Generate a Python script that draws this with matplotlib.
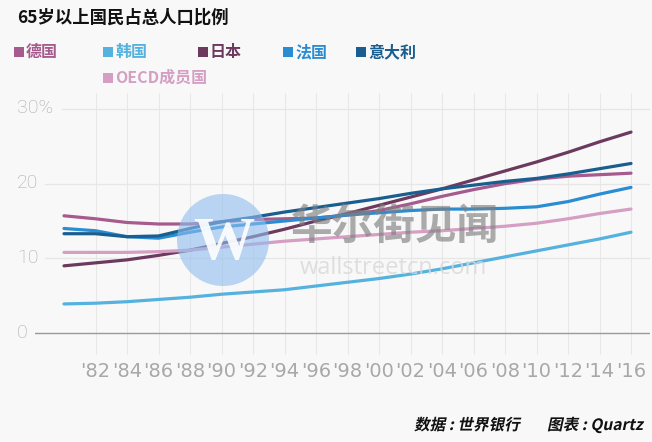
import numpy as np
import matplotlib.pyplot as plt
from matplotlib.patches import Circle, PathPatch
from matplotlib.textpath import TextPath
from matplotlib.font_manager import FontProperties
from matplotlib.transforms import Affine2D

plt.rcParams['font.family'] = ['Noto Sans CJK SC', 'DejaVu Sans']

years = np.arange(1980, 2017, 2)
germany = [15.7, 15.3, 14.8, 14.6, 14.6, 14.9, 15.2, 15.3, 15.4, 15.8, 16.4, 17.3, 18.3, 19.2, 20.0, 20.6, 21.0, 21.2, 21.4]
korea = [3.9, 4.0, 4.2, 4.5, 4.8, 5.2, 5.5, 5.8, 6.3, 6.8, 7.3, 7.9, 8.6, 9.4, 10.2, 11.0, 11.8, 12.6, 13.5]
japan = [9.0, 9.4, 9.8, 10.4, 11.1, 12.0, 12.9, 13.9, 15.0, 16.0, 17.1, 18.2, 19.3, 20.5, 21.7, 22.9, 24.2, 25.6, 26.9]
france = [14.0, 13.7, 12.9, 12.7, 13.5, 14.2, 14.6, 15.0, 15.4, 15.8, 16.1, 16.4, 16.6, 16.6, 16.7, 16.9, 17.6, 18.6, 19.5]
italy = [13.3, 13.3, 12.9, 13.0, 14.0, 14.9, 15.5, 16.2, 16.8, 17.4, 18.0, 18.7, 19.3, 19.8, 20.3, 20.7, 21.3, 22.0, 22.7]
oecd = [10.8, 10.8, 10.8, 10.9, 11.1, 11.5, 11.9, 12.3, 12.6, 12.9, 13.2, 13.5, 13.7, 14.0, 14.3, 14.7, 15.3, 16.0, 16.6]

names = ['德国', '韩国', '日本', '法国', '意大利', 'OECD成员国']
colors = ['#a65a8d', '#55b2df', '#6c3a5e', '#2a8dd2', '#1a5e90', '#d49fc2']
series = [germany, korea, japan, france, italy, oecd]

xticks = list(range(1982, 2017, 2))
xlabels = ["'%02d" % (y % 100) for y in xticks]
yticks = [0, 10, 20, 30]
ylabels = ['0', '10', '20', '30%']

bg = '#f8f8f8'
fig = plt.figure(figsize=(6.52, 4.42), dpi=100, facecolor=bg)
W, H = 652, 442

# axes: x px 35..650, y px 93..355
ax = fig.add_axes([35 / W, (H - 355) / H, 615 / W, 262 / H])
ax.set_facecolor(bg)
x0 = 1980 - (64 - 35) / 15.75
x1 = 1980 + (650 - 64) / 15.75
ax.set_xlim(x0, x1)
ax.set_ylim(-22 / 7.5, 241 / 7.5)
for s in ax.spines.values():
    s.set_visible(False)
ax.set_xticks([])
ax.set_yticks([])

for y in xticks:
    ax.axvline(y, color='#e8e8e8', lw=0.8, zorder=0)
for v in yticks[1:]:
    start = 62 if v == 30 else 45
    ax.axhline(v, xmin=(start - 35) / 615, xmax=1, color='#e6e6e6', lw=0.9, zorder=0)
ax.axhline(0, color='#9a9a9a', lw=1.0, zorder=1)

for vals, c in zip(series, colors):
    ax.plot(years, vals, color=c, lw=2.3, solid_capstyle='round', zorder=3)

# tick labels
for v, lab in zip(yticks, ylabels):
    fig.text(17 / W, 1 - (333 - v * 7.5) / H, lab, ha='left', va='center',
             fontsize=14, color='#aaaaaa', family=['Roboto', 'DejaVu Sans'], fontweight='light')
for y, lab in zip(xticks, xlabels):
    ax.text(y, -5.1, lab, ha='center', va='center', fontsize=14,
            color='#a8a8a8', family=['Liberation Sans Narrow', 'DejaVu Sans'])

# overlay axes in pixel coordinates
ax2 = fig.add_axes([0, 0, 1, 1], facecolor='none')
ax2.set_xlim(0, W)
ax2.set_ylim(H, 0)
ax2.axis('off')

# watermark
ax2.add_patch(Circle((223, 240), 46, facecolor='#8fbdee', alpha=0.6, edgecolor='none'))
ax2.text(224, 244, 'W', ha='center', va='center', fontsize=44, color='white', alpha=0.9,
         family='Liberation Serif', fontweight='bold')
ax2.text(395, 227, '华尔街见闻', ha='center', va='center', fontsize=30, color='#808080',
         alpha=0.65, fontweight='bold')
ax2.text(393, 268, 'wallstreetcn.com', ha='center', va='center', fontsize=17,
         color='#d8d8d8', alpha=0.8, family='Open Sans')

# title
fig.text(17 / W, 1 - 18 / H, '65岁以上国民占总人口比例', ha='left', va='center',
         fontsize=12.5, fontweight='bold', color='#111111')

# legend
legend_pos = [(14, 52), (103, 52), (198, 52), (283, 52), (356, 52), (103, 78)]
for (lx, ly), name, c in zip(legend_pos, names, colors):
    ax2.add_patch(plt.Rectangle((lx, ly - 5), 10, 10, facecolor=c, edgecolor='none'))
    ax2.text(lx + 12, ly, name, ha='left', va='center', fontsize=11.5,
             fontweight='bold', color=c)

# source, slanted
prop = FontProperties(family='Noto Sans CJK SC', weight='bold')


def slanted(s, x, y, size):
    tp = TextPath((0, 0), s, size=size, prop=prop)
    tr = Affine2D().skew_deg(12, 0).scale(1, -1).translate(x, y)
    ax2.add_patch(PathPatch(tr.transform_path(tp), facecolor='#111111', edgecolor='none'))


slanted('数据 : 世界银行', 414, 430, 15.6)
slanted('图表 : Quartz', 547, 430, 15.6)

fig.savefig('out.png', dpi=100, facecolor=bg)
